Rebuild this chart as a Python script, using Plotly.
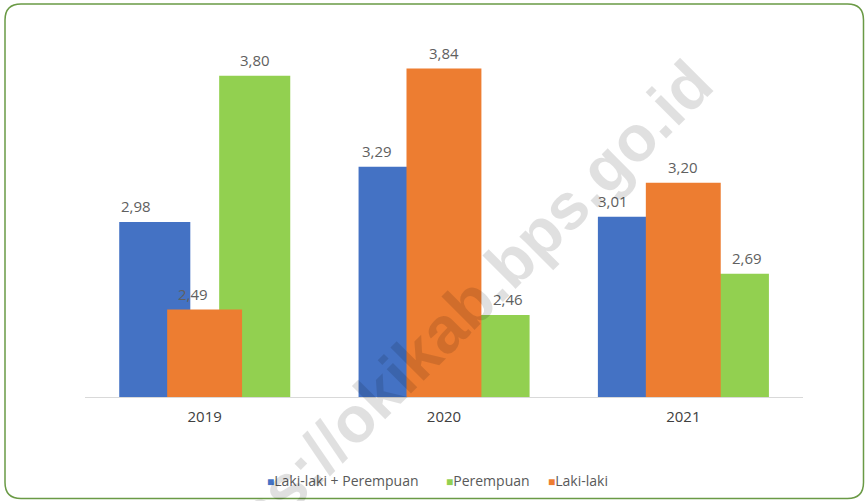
import plotly.graph_objects as go

# ---- data ----
years = ["2019", "2020", "2021"]
total = [2.98, 3.29, 3.01]       # Laki-laki + Perempuan
female = [3.80, 2.46, 2.69]      # Perempuan
male = [2.49, 3.84, 3.20]        # Laki-laki

# ---- styling / layout ----
W, H = 865, 501
ML, MR, MT, MB = 85, 62, 40, 104
PW, PH = W - ML - MR, H - MT - MB

C_BLUE, C_GREEN, C_ORANGE = "#4472C4", "#92D050", "#ED7D31"
FONT = "Open Sans"

# bar geometry in category units (offset from category centre, width)
series = [
    dict(name="Laki-laki + Perempuan", y=total, color=C_BLUE, offset=-0.357, width=0.297,
         nudge=[-19, -17, -20]),
    dict(name="Perempuan", y=female, color=C_GREEN, offset=0.0606, width=0.297,
         nudge=[0, 14, 14]),
    dict(name="Laki-laki", y=male, color=C_ORANGE, offset=-0.1567, width=0.313,
         nudge=[-12, 0, 0]),
]

fig = go.Figure()
annotations = []
for s in series:
    fig.add_trace(go.Bar(
        x=years, y=s["y"], name=s["name"],
        marker=dict(color=s["color"], line=dict(width=0)),
        offset=s["offset"], width=s["width"],
        showlegend=False, hoverinfo="x+y+name",
    ))
    for i, v in enumerate(s["y"]):
        annotations.append(dict(
            x=i + s["offset"] + s["width"] / 2, y=v, xref="x", yref="y",
            text=f"{v:.2f}".replace(".", ","), showarrow=False,
            xanchor="center", yanchor="middle", yshift=16, xshift=s["nudge"][i],
            font=dict(family=FONT, size=15, color="#606060"),
        ))

# legend built from annotations (small squares + labels)
def px2paper(px, py):
    return (px - ML) / PW, (H - MB - py) / PH

legend_left = [265.0, 443.5, 545.5]
legend_y = 480.7
for s, lx in zip(series, legend_left):
    xp, yp = px2paper(lx, legend_y)
    annotations.append(dict(
        x=xp, y=yp, xref="paper", yref="paper", xanchor="left", yanchor="middle",
        showarrow=False,
        text=f"<span style='color:{s['color']};font-size:12px'>■</span>{s['name']}",
        font=dict(family=FONT, size=14, color="#595959"),
    ))

# watermark
wx, wy = px2paper(442, 330)
annotations.append(dict(
    x=wx, y=wy, xref="paper", yref="paper", xanchor="center", yanchor="middle",
    showarrow=False, text="<b>https://okikab.bps.go.id</b>", textangle=-45,
    font=dict(family="Liberation Sans", size=65, color="rgba(0,0,0,0.12)"),
))

# rounded border
x0, y0, x1, y1, r = 5, 4, 863.5, 498.5, 16
def P(px, py):
    a, b = px2paper(px, py)
    return f"{a:.5f},{b:.5f}"
path = (f"M {P(x0+r, y0)} L {P(x1-r, y0)} Q {P(x1, y0)} {P(x1, y0+r)} "
        f"L {P(x1, y1-r)} Q {P(x1, y1)} {P(x1-r, y1)} "
        f"L {P(x0+r, y1)} Q {P(x0, y1)} {P(x0, y1-r)} "
        f"L {P(x0, y0+r)} Q {P(x0, y0)} {P(x0+r, y0)} Z")

fig.update_layout(
    width=W, height=H,
    margin=dict(l=ML, r=MR, t=MT, b=MB),
    paper_bgcolor="white", plot_bgcolor="white",
    barmode="overlay",
    separators=",.",
    annotations=annotations,
    shapes=[dict(type="path", path=path, xref="paper", yref="paper",
                 line=dict(color="#6A9A45", width=1.5), layer="above")],
    xaxis=dict(type="category", range=[-0.5, 2.5], showgrid=False, zeroline=False,
               showline=True, linecolor="#D9D9D9", linewidth=1, ticks="",
               ticklabelstandoff=6,
               tickfont=dict(family=FONT, size=15, color="#404040")),
    yaxis=dict(range=[2, 4], visible=False, showgrid=False, zeroline=False),
    showlegend=False,
)

fig.write_html(
    "out.html",
    config={"displayModeBar": False},
    post_script="document.body.style.margin='0';document.body.style.overflow='hidden';",
)
